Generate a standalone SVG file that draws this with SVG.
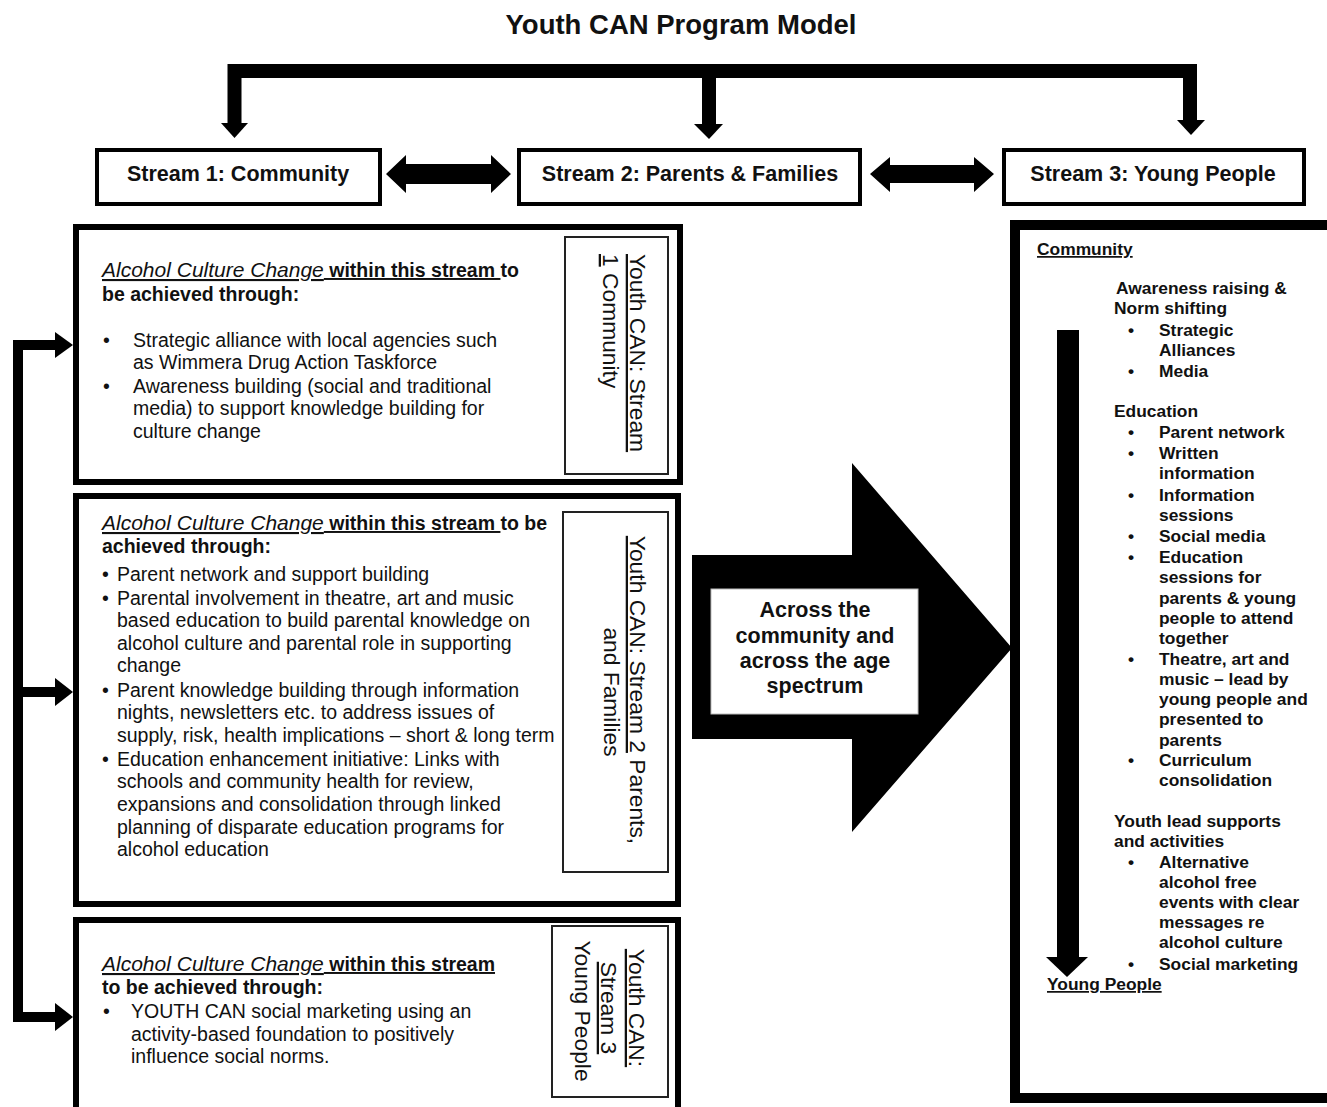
<svg xmlns="http://www.w3.org/2000/svg" width="1327" height="1107" viewBox="0 0 1327 1107">
<style>
text{font-family:"Liberation Sans",Arial,sans-serif;fill:#111}
.t{font-size:27.5px;font-weight:bold}
.s{font-size:21.5px;font-weight:bold}
.b{font-size:19.5px}
.bb{font-weight:bold}
.it{font-style:italic;font-size:21px}
.u{text-decoration:underline}
.v{font-size:22.8px}
.r{font-size:17.4px;font-weight:bold}
.c{font-size:21.5px;font-weight:bold}
.box{fill:#fff;stroke:#000;stroke-width:4}
.big{fill:#fff;stroke:#000;stroke-width:6}
.lab{fill:none;stroke:#222;stroke-width:2}
.k{fill:#000}
</style>
<rect width="1327" height="1107" fill="#fff"/>
<text class="t" x="681" y="34" text-anchor="middle">Youth CAN Program Model</text>

<g id="connectors">
  <path d="M234.5 124 V71 H1190 V121 M709 71 V125" fill="none" stroke="#000" stroke-width="14"/>
  <polygon class="k" points="221,123 248,123 234.5,138"/>
  <polygon class="k" points="694,124 723,124 709,139"/>
  <polygon class="k" points="1177,120 1205,120 1191,135"/>
  <polygon class="k" points="386,174 406,155 406,164 491,164 491,155 511,174 491,193 491,184 406,184 406,193"/>
  <polygon class="k" points="870,174 890,157 890,165 974,165 974,157 994,174 974,192 974,183 890,183 890,192"/>
  <path d="M57 345 H18 V1017 H57 M18 692 H57" fill="none" stroke="#000" stroke-width="10"/>
  <polygon class="k" points="55,332 73,345 55,358"/>
  <polygon class="k" points="55,678 73,692 55,706"/>
  <polygon class="k" points="55,1003 73,1017 55,1031"/>
</g>

<g id="stream1">
  <rect class="box" x="97" y="150" width="283" height="54"/>
  <text class="s" x="238" y="181" text-anchor="middle">Stream 1: Community</text>
</g>
<g id="stream2">
  <rect class="box" x="519" y="150" width="341" height="54"/>
  <text class="s" x="690" y="181" text-anchor="middle">Stream 2: Parents &amp; Families</text>
</g>
<g id="stream3">
  <rect class="box" x="1004" y="150" width="300" height="54"/>
  <text class="s" x="1153" y="181" text-anchor="middle">Stream 3: Young People</text>
</g>

<g id="box-community">
  <rect class="big" x="76" y="227" width="604" height="255"/>
  <rect class="lab" x="565" y="237" width="103" height="237"/>
  <text class="b" x="102" y="277"><tspan class="it u">Alcohol Culture Change</tspan><tspan class="bb u"> within this stream </tspan><tspan class="bb">to</tspan></text>
  <text class="b bb" x="102" y="301">be achieved through:</text>
  <text class="b" x="103" y="347">•</text>
  <text class="b" x="103" y="393">•</text>
  <text class="b" x="133" y="347">Strategic alliance with local agencies such</text>
  <text class="b" x="133" y="369">as Wimmera Drug Action Taskforce</text>
  <text class="b" x="133" y="393">Awareness building (social and traditional</text>
  <text class="b" x="133" y="415">media) to support knowledge building for</text>
  <text class="b" x="133" y="438">culture change</text>
  <text class="v" transform="translate(630,254) rotate(90)"><tspan class="u">Youth CAN: Stream</tspan></text>
  <text class="v" transform="translate(603,254) rotate(90)"><tspan class="u">1</tspan> Community</text>
</g>

<g id="box-parents">
  <rect class="big" x="76" y="496" width="602" height="408"/>
  <rect class="lab" x="563" y="512" width="105" height="360"/>
  <text class="b" x="102" y="530"><tspan class="it u">Alcohol Culture Change</tspan><tspan class="bb u"> within this stream </tspan><tspan class="bb">to be</tspan></text>
  <text class="b bb" x="102" y="553">achieved through:</text>
  <text class="b" x="102" y="581">•</text>
  <text class="b" x="102" y="605">•</text>
  <text class="b" x="102" y="697">•</text>
  <text class="b" x="102" y="766">•</text>
  <text class="b" x="117" y="581">Parent network and support building</text>
  <text class="b" x="117" y="605">Parental involvement in theatre, art and music</text>
  <text class="b" x="117" y="627">based education to build parental knowledge on</text>
  <text class="b" x="117" y="650">alcohol culture and parental role in supporting</text>
  <text class="b" x="117" y="672">change</text>
  <text class="b" x="117" y="697">Parent knowledge building through information</text>
  <text class="b" x="117" y="719">nights, newsletters etc. to address issues of</text>
  <text class="b" x="117" y="742">supply, risk, health implications – short &amp; long term</text>
  <text class="b" x="117" y="766">Education enhancement initiative: Links with</text>
  <text class="b" x="117" y="788">schools and community health for review,</text>
  <text class="b" x="117" y="811">expansions and consolidation through linked</text>
  <text class="b" x="117" y="834">planning of disparate education programs for</text>
  <text class="b" x="117" y="856">alcohol education</text>
  <text class="v" text-anchor="middle" transform="translate(630,690) rotate(90)"><tspan class="u">Youth CAN: Stream 2</tspan> Parents,</text>
  <text class="v" text-anchor="middle" transform="translate(604,692) rotate(90)">and Families</text>
</g>

<g id="box-young">
  <rect class="big" x="76" y="920" width="602" height="200"/>
  <rect class="lab" x="552" y="926" width="116" height="171"/>
  <text class="b" x="102" y="971"><tspan class="it u">Alcohol Culture Change</tspan><tspan class="bb u"> within this stream</tspan></text>
  <text class="b bb" x="102" y="994">to be achieved through:</text>
  <text class="b" x="103" y="1018">•</text>
  <text class="b" x="131" y="1018">YOUTH CAN social marketing using an</text>
  <text class="b" x="131" y="1041">activity-based foundation to positively</text>
  <text class="b" x="131" y="1063">influence social norms.</text>
  <text class="v" text-anchor="middle" transform="translate(629,1008) rotate(90)"><tspan class="u">Youth CAN:</tspan></text>
  <text class="v" text-anchor="middle" transform="translate(601,1008) rotate(90)"><tspan class="u">Stream 3</tspan></text>
  <text class="v" text-anchor="middle" transform="translate(575,1011) rotate(90)">Young People</text>
</g>

<g id="across">
  <polygon class="k" points="692,555 852,555 852,463 1012,648 852,832 852,739 692,739"/>
  <rect x="711" y="589" width="207" height="125" fill="#fff" stroke="#bbb" stroke-width="1"/>
  <text class="c" x="815" y="617" text-anchor="middle">Across the</text>
  <text class="c" x="815" y="643" text-anchor="middle">community and</text>
  <text class="c" x="815" y="668" text-anchor="middle">across the age</text>
  <text class="c" x="815" y="693" text-anchor="middle">spectrum</text>
</g>

<g id="panel-young">
  <rect x="1015" y="225" width="400" height="873" fill="#fff" stroke="#000" stroke-width="10"/>
  <rect class="k" x="1057" y="330" width="22" height="628"/>
  <polygon class="k" points="1046,957 1088,957 1067,977"/>
  <text class="r u" x="1037" y="255">Community</text>
  <text class="r" x="1116" y="294">Awareness raising &amp;</text>
  <text class="r" x="1114" y="314">Norm shifting</text>
  <text class="r" x="1114" y="417">Education</text>
  <text class="r" x="1114" y="827">Youth lead supports</text>
  <text class="r" x="1114" y="847">and activities</text>
  <g>
    <text class="r" x="1128" y="336">•</text>
    <text class="r" x="1128" y="377">•</text>
    <text class="r" x="1128" y="438">•</text>
    <text class="r" x="1128" y="459">•</text>
    <text class="r" x="1128" y="501">•</text>
    <text class="r" x="1128" y="542">•</text>
    <text class="r" x="1128" y="563">•</text>
    <text class="r" x="1128" y="665">•</text>
    <text class="r" x="1128" y="766">•</text>
    <text class="r" x="1128" y="868">•</text>
    <text class="r" x="1128" y="970">•</text>
  </g>
  <text class="r" x="1159" y="336">Strategic</text>
  <text class="r" x="1159" y="356">Alliances</text>
  <text class="r" x="1159" y="377">Media</text>
  <text class="r" x="1159" y="438">Parent network</text>
  <text class="r" x="1159" y="459">Written</text>
  <text class="r" x="1159" y="479">information</text>
  <text class="r" x="1159" y="501">Information</text>
  <text class="r" x="1159" y="521">sessions</text>
  <text class="r" x="1159" y="542">Social media</text>
  <text class="r" x="1159" y="563">Education</text>
  <text class="r" x="1159" y="583">sessions for</text>
  <text class="r" x="1159" y="604">parents &amp; young</text>
  <text class="r" x="1159" y="624">people to attend</text>
  <text class="r" x="1159" y="644">together</text>
  <text class="r" x="1159" y="665">Theatre, art and</text>
  <text class="r" x="1159" y="685">music – lead by</text>
  <text class="r" x="1159" y="705">young people and</text>
  <text class="r" x="1159" y="725">presented to</text>
  <text class="r" x="1159" y="746">parents</text>
  <text class="r" x="1159" y="766">Curriculum</text>
  <text class="r" x="1159" y="786">consolidation</text>
  <text class="r" x="1159" y="868">Alternative</text>
  <text class="r" x="1159" y="888">alcohol free</text>
  <text class="r" x="1159" y="908">events with clear</text>
  <text class="r" x="1159" y="928">messages re</text>
  <text class="r" x="1159" y="948">alcohol culture</text>
  <text class="r" x="1159" y="970">Social marketing</text>
  <text class="r u" x="1047" y="990">Young People</text>
</g>
</svg>
